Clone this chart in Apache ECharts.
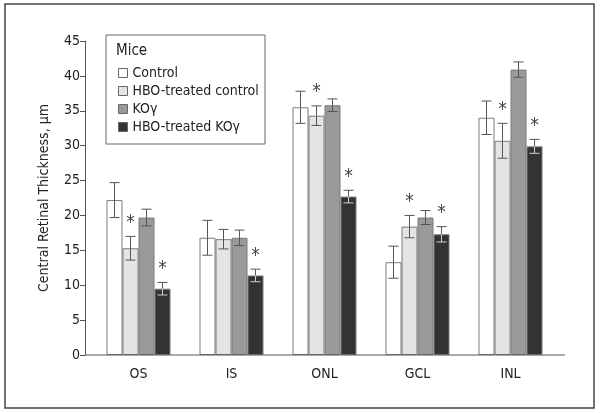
<!DOCTYPE html>
<html>
<head>
<meta charset="utf-8">
<script src="https://cdn.jsdelivr.net/npm/echarts@6/dist/echarts.min.js"></script>
<style>
  html, body { margin: 0; padding: 0; background: #fff; }
  #chart { width: 600px; height: 413px; }
</style>
</head>
<body>
<div id="chart"></div>
<script>
// ── Central retinal thickness by layer ──

const categories = ['OS', 'IS', 'ONL', 'GCL', 'INL'];
const seriesNames = ['Control', 'HBO-treated control', 'KOγ', 'HBO-treated KOγ'];

const control = [22.2, 16.8, 35.5, 13.3, 34.0];
const controlErr = [2.5, 2.5, 2.3, 2.3, 2.4];
const hboControl = [15.3, 16.6, 34.3, 18.4, 30.7];
const hboControlErr = [1.7, 1.4, 1.4, 1.6, 2.5];
const ko = [19.7, 16.8, 35.8, 19.7, 40.9];
const koErr = [1.2, 1.1, 0.9, 1.0, 1.1];
const hboKo = [9.5, 11.4, 22.7, 17.3, 29.9];
const hboKoErr = [0.9, 0.9, 0.9, 1.1, 1.0];

// 1 = marked with an asterisk
const hboControlSig = [1, 0, 1, 1, 1];
const hboKoSig = [1, 1, 1, 1, 1];

const yTicks = [0, 5, 10, 15, 20, 25, 30, 35, 40, 45];

const FONT = '"Liberation Sans Narrow", "DejaVu Sans Condensed", "Liberation Sans", sans-serif';
const colors = ['#ffffff', '#e4e4e4', '#9a9a9a', '#333333'];
const means = [control, hboControl, ko, hboKo];
const errs = [controlErr, hboControlErr, koErr, hboKoErr];
const sigs = [null, hboControlSig, null, hboKoSig];
const BAR_W = 16;

const chart = echarts.init(document.getElementById('chart'));

const barSeries = means.map((vals, i) => ({
  name: seriesNames[i],
  type: 'bar',
  data: vals,
  barWidth: BAR_W,
  barGap: '0%',
  itemStyle: { color: colors[i], borderColor: '#7a7a7a', borderWidth: 1 },
  z: 2,
}));

const errSeries = means.map((vals, i) => ({
  type: 'custom',
  silent: true,
  z: 5,
  data: vals.map((v, j) => [j, v, errs[i][j], sigs[i] ? sigs[i][j] : 0]),
  renderItem: (params, api) => {
    const cat = api.value(0), mean = api.value(1), err = api.value(2), sig = api.value(3);
    const top = api.coord([cat, mean + err]);
    const mid = api.coord([cat, mean]);
    const bot = api.coord([cat, mean - err]);
    const x = top[0] + (i - 1.5) * BAR_W;
    const cap = 5;
    const upper = '#555';
    const lower = i === 3 ? '#d0d0d0' : '#555';
    const children = [
      { type: 'line', shape: { x1: x, y1: top[1], x2: x, y2: mid[1] }, style: { stroke: upper, lineWidth: 1 } },
      { type: 'line', shape: { x1: x - cap, y1: top[1], x2: x + cap, y2: top[1] }, style: { stroke: upper, lineWidth: 1 } },
      { type: 'line', shape: { x1: x, y1: mid[1], x2: x, y2: bot[1] }, style: { stroke: lower, lineWidth: 1 } },
      { type: 'line', shape: { x1: x - cap, y1: bot[1], x2: x + cap, y2: bot[1] }, style: { stroke: lower, lineWidth: 1 } },
    ];
    if (sig) {
      children.push({
        type: 'text',
        style: { text: '*', x: x, y: top[1] - 4, align: 'center', verticalAlign: 'bottom', fill: '#444', font: '19px ' + FONT },
      });
    }
    return { type: 'group', children };
  },
}));

chart.setOption({
  animation: false,
  backgroundColor: '#fff',
  textStyle: { fontFamily: FONT },
  grid: { left: 92, right: 43, top: 41, bottom: 58 },
  legend: {
    orient: 'vertical',
    left: 113,
    top: 61,
    itemWidth: 9,
    itemHeight: 9,
    itemGap: 4,
    icon: 'rect',
    data: seriesNames,
    textStyle: { fontFamily: FONT, fontSize: 14, color: '#222' },
    itemStyle: { borderColor: '#666', borderWidth: 1 },
  },
  xAxis: {
    type: 'category',
    data: categories,
    axisLine: { show: false },
    axisTick: { show: false },
    axisLabel: { color: '#222', fontSize: 14, fontFamily: FONT, margin: 12 },
  },
  yAxis: {
    type: 'value',
    min: yTicks[0],
    max: yTicks[yTicks.length - 1],
    interval: 5,
    offset: 7,
    name: 'Central Retinal Thickness, µm',
    nameLocation: 'middle',
    nameGap: 34,
    nameTextStyle: { color: '#222', fontSize: 14, fontFamily: FONT },
    axisLine: { show: true, lineStyle: { color: '#555' } },
    axisTick: { show: true, length: 5, lineStyle: { color: '#555' } },
    axisLabel: { color: '#222', fontSize: 14, fontFamily: FONT, margin: 5 },
    splitLine: { show: false },
  },
  graphic: [
    { type: 'rect', shape: { x: 5, y: 4, width: 589, height: 404 }, style: { fill: 'none', stroke: '#444', lineWidth: 1.5 }, z: 0 },
    { type: 'line', shape: { x1: 85, y1: 355, x2: 565, y2: 355 }, style: { stroke: '#555', lineWidth: 1 }, z: 10 },
    { type: 'rect', shape: { x: 106, y: 35, width: 159, height: 109 }, style: { fill: 'none', stroke: '#666', lineWidth: 1 }, z: 10 },
    { type: 'text', style: { text: 'Mice', x: 116, y: 44, fill: '#222', font: '15px ' + FONT }, z: 10 },
  ],
  series: [...barSeries, ...errSeries],
});
</script>
</body>
</html>
